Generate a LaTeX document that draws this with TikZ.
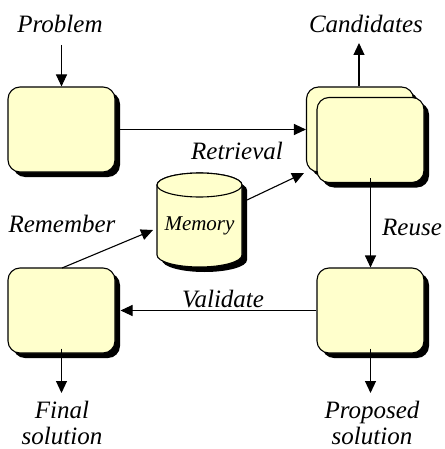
\documentclass[tikz,border=0pt]{standalone}
\usepackage{fontspec}
\setmainfont{Liberation Serif}
\usetikzlibrary{shadows,arrows.meta}
\definecolor{boxfill}{HTML}{FFFFCC}
\begin{document}
\begin{tikzpicture}[x=1pt,y=-1pt,
  box/.style={draw=black,line width=1.1pt,fill=boxfill,rounded corners=12pt,
    minimum width=107pt,minimum height=85pt,inner sep=0pt,
    drop shadow={shadow xshift=5pt,shadow yshift=-5pt,fill=black,opacity=1}},
  lbl/.style={font=\fontsize{25}{29}\selectfont\itshape,inner sep=0pt,align=center},
  arr/.style={line width=1.1pt,-{Triangle[length=12pt,width=11pt]}},
  cyl/.style={draw=black,line width=1.1pt,fill=boxfill}]
\useasboundingbox (0,0) rectangle (444,449);
% boxes
\node[box] (P) at (61.5,129.5) {};
\node[box] (Cb) at (360,129.5) {};
\node[box] (Cf) at (370.5,140) {};
\node[box] (F) at (61.5,310.5) {};
\node[box] (S) at (370.5,310.5) {};
% memory cylinder
\fill[black] (162,190) -- (162,260) arc[start angle=180,end angle=0,x radius=42.5,y radius=12]
  -- (247,190) arc[start angle=0,end angle=-180,x radius=42.5,y radius=12] -- cycle;
\path[cyl] (157,185) -- (157,255) arc[start angle=180,end angle=0,x radius=42.5,y radius=12]
  -- (242,185) arc[start angle=0,end angle=-180,x radius=42.5,y radius=12] -- cycle;
\draw[cyl] (199.5,185) ellipse[x radius=42.5,y radius=12];
\node[font=\fontsize{21}{24}\selectfont\itshape,inner sep=0pt] (M) at (199.5,226) {Memory};
% labels
\node[lbl] (lp) at (60,24) {Problem};
\node[lbl] (lc) at (366,24) {Candidates};
\node[lbl] (lr) at (237,151) {Retrieval};
\node[lbl] (lrm) at (62,224) {Remember};
\node[lbl] (lre) at (412,227) {Reuse};
\node[lbl] (lv) at (223,299) {Validate};
\node[lbl] (lf) at (62,423) {Final\\[-3pt]solution};
\node[lbl] (ls) at (372,423) {Proposed\\[-3pt]solution};
% free ends
\coordinate (pa) at (61.5,45);
\coordinate (ca) at (359,43);
\coordinate (ms) at (247,200);
\coordinate (mt) at (304,173);
\coordinate (rs) at (62,268);
\coordinate (rt) at (153,230);
\coordinate (fe) at (61.5,393);
\coordinate (se) at (370.5,393);
% connectors
\draw[arr] (pa) -- (P.north);
\draw[arr] (P.east) -- (Cb.west);
\draw[arr] (Cb.north -| ca) -- (ca);
\draw[arr] (ms) -- (mt);
\draw[arr] (rs) -- (rt);
\draw[arr] ([yshift=5pt]Cf.south) -- (S.north);
\draw[arr] (S.west) -- ([xshift=5pt]F.east);
\draw[arr] ([yshift=5pt]F.south) -- (fe);
\draw[arr] ([yshift=5pt]S.south) -- (se);
\end{tikzpicture}
\end{document}
